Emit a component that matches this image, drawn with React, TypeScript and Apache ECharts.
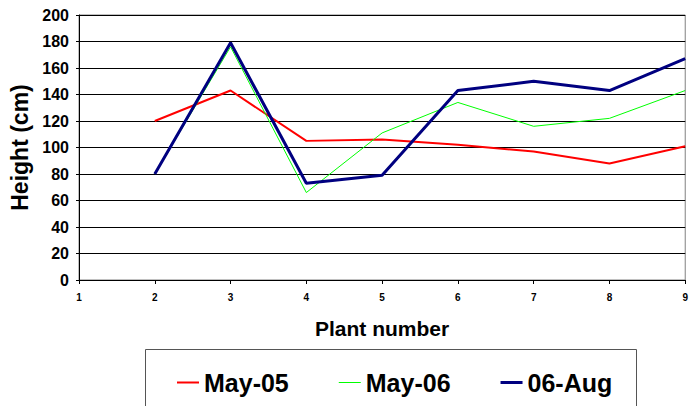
import React, { useEffect, useRef } from "react";
import * as echarts from "echarts";

const plantNumbers = ["1", "2", "3", "4", "5", "6", "7", "8", "9"];
const may05 = [null, 120, 143, 105, 106, 102, 97, 88, 101];
const may06 = [null, 80, 176, 66, 111, 134, 116, 122, 143];
const aug06 = [null, 80, 179, 73, 79, 143, 150, 143, 167];

const FONT = "Arial, 'Liberation Sans', sans-serif";

export default function App() {
  const ref = useRef<HTMLDivElement>(null);
  useEffect(() => {
    const chart = echarts.init(ref.current!, null, { renderer: "svg" });
    chart.setOption({
      animation: false,
      backgroundColor: "#ffffff",
      grid: {
        left: 79,
        top: 15,
        right: 1,
        bottom: 126,
        show: true,
        borderColor: "#808080",
        borderWidth: 1,
      },
      xAxis: {
        type: "category",
        data: plantNumbers,
        boundaryGap: false,
        name: "Plant number",
        nameLocation: "middle",
        nameGap: 38,
        nameTextStyle: { fontFamily: FONT, fontWeight: "bold", fontSize: 21, color: "#000" },
        axisLine: { show: true, lineStyle: { color: "#000", width: 1 } },
        axisTick: { show: true, alignWithLabel: true, length: 4, lineStyle: { color: "#000" } },
        axisLabel: { margin: 12, fontFamily: FONT, fontWeight: "bold", fontSize: 10, color: "#000", interval: 0 },
        splitLine: { show: false },
      },
      yAxis: {
        type: "value",
        min: 0,
        max: 200,
        interval: 20,
        name: "Height (cm)",
        nameLocation: "middle",
        nameGap: 45,
        nameRotate: 90,
        nameTextStyle: { fontFamily: FONT, fontWeight: "bold", fontSize: 23, color: "#000" },
        axisLine: { show: true, lineStyle: { color: "#000", width: 1 } },
        axisTick: { show: true, length: 3, lineStyle: { color: "#000" } },
        axisLabel: { margin: 10, fontFamily: FONT, fontWeight: "bold", fontSize: 16, color: "#000" },
        splitLine: { show: true, lineStyle: { color: "#000", width: 1 } },
      },
      legend: {
        left: 172,
        top: 365,
        itemGap: 50,
        itemWidth: 22,
        itemHeight: 14,
        textStyle: { fontFamily: FONT, fontWeight: "bold", fontSize: 25, color: "#000" },
        data: [
          { name: "May-05", icon: "path://M0,0 L22,0 L22,2 L0,2 Z" },
          { name: "May-06", icon: "path://M0,0 L22,0 L22,1 L0,1 Z" },
          { name: "06-Aug", icon: "path://M0,0 L22,0 L22,3 L0,3 Z" },
        ],
      },
      graphic: [
        {
          type: "rect",
          shape: { x: 145.5, y: 349.5, width: 491, height: 80 },
          style: { fill: "none", stroke: "#555", lineWidth: 1 },
          silent: true,
        },
      ],
      series: [
        {
          name: "May-05",
          type: "line",
          data: may05,
          symbol: "none",
          color: "#ff0000",
          lineStyle: { color: "#ff0000", width: 2 },
        },
        {
          name: "May-06",
          type: "line",
          data: may06,
          symbol: "none",
          color: "#00ff00",
          lineStyle: { color: "#00ff00", width: 1 },
        },
        {
          name: "06-Aug",
          type: "line",
          data: aug06,
          symbol: "none",
          color: "#000080",
          lineStyle: { color: "#000080", width: 3 },
        },
      ],
    });
    return () => chart.dispose();
  }, []);
  return (
    <div
      ref={ref}
      style={{ position: "fixed", left: 0, top: 0, width: 691, height: 406, background: "#fff" }}
    />
  );
}
